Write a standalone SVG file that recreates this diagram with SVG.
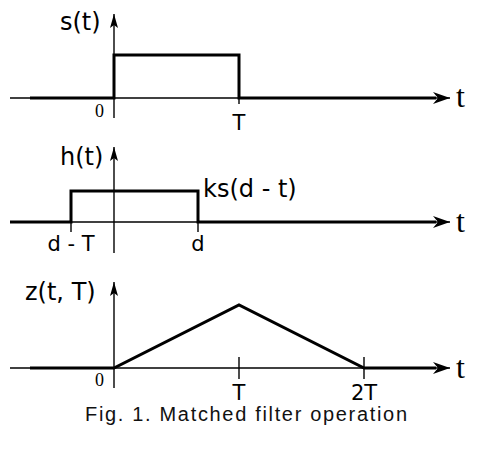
<svg xmlns="http://www.w3.org/2000/svg" width="486" height="455" viewBox="0 0 486 455">
<style>
.bg{fill:#fff}
.ax{fill:none;stroke:#000;stroke-width:1.4}
.sig{fill:none;stroke:#000;stroke-width:3;stroke-linejoin:miter;stroke-linecap:butt}
.lbl{font-family:"DejaVu Sans",Verdana,sans-serif;font-size:24px;fill:#000}
.tick{font-family:"DejaVu Sans",Verdana,sans-serif;font-size:21px;fill:#000;text-anchor:middle}
.ser{font-family:"Liberation Serif","Times New Roman",serif;fill:#000}
.cap{font-family:"Liberation Sans",Arial,sans-serif;font-size:20px;fill:#111}
</style>
<defs>
<marker id="ah" viewBox="-18 -7 19 14" refX="0" refY="0" markerWidth="19" markerHeight="14" orient="auto" markerUnits="userSpaceOnUse">
<path d="M0,0 L-17,-6 L-12,0 L-17,6 Z" fill="#000"/>
</marker>
<marker id="av" viewBox="-15 -5 16 10" refX="0" refY="0" markerWidth="16" markerHeight="10" orient="auto" markerUnits="userSpaceOnUse">
<path d="M0,0 L-14,-4 L-11,0 L-14,4 Z" fill="#000"/>
</marker>
</defs>
<rect class="bg" x="0" y="0" width="486" height="455"/>

<g id="panel-s">
<line class="ax" x1="10" y1="98" x2="450" y2="98" marker-end="url(#ah)"/>
<line class="ax" x1="114" y1="118" x2="114" y2="14" marker-end="url(#av)"/>
<line class="ax" x1="239" y1="98" x2="239" y2="104"/>
<path class="sig" d="M30,98 H114 V55 H239 V98 H436"/>
<text class="lbl" x="60" y="30">s(t)</text>
<text class="ser" x="95" y="117" font-size="18">0</text>
<text class="tick" x="239" y="130">T</text>
<text class="ser" x="456" y="107" font-size="32">t</text>
</g>

<g id="panel-h">
<line class="ax" x1="10" y1="222" x2="450" y2="222" marker-end="url(#ah)"/>
<line class="ax" x1="114" y1="253" x2="114" y2="147" marker-end="url(#av)"/>
<line class="ax" x1="71" y1="222" x2="71" y2="232"/>
<line class="ax" x1="198" y1="222" x2="198" y2="232"/>
<path class="sig" d="M10,222 H71 V191 H198 V222 H436"/>
<text class="lbl" x="60" y="165">h(t)</text>
<text class="lbl" x="203" y="197">ks(d - t)</text>
<text class="tick" x="71" y="251">d - T</text>
<text class="tick" x="198" y="251">d</text>
<text class="ser" x="456" y="232" font-size="32">t</text>
</g>

<g id="panel-z">
<line class="ax" x1="10" y1="368" x2="450" y2="368" marker-end="url(#ah)"/>
<line class="ax" x1="114" y1="388" x2="114" y2="282" marker-end="url(#av)"/>
<line class="ax" x1="239" y1="357" x2="239" y2="379"/>
<line class="ax" x1="364" y1="357" x2="364" y2="379"/>
<path class="sig" d="M30,368 H114 L239,305 L364,368 H436"/>
<text class="lbl" x="25" y="300">z(t, T)</text>
<text class="ser" x="95" y="386" font-size="18">0</text>
<text class="tick" x="239" y="400">T</text>
<text class="tick" x="364" y="400">2T</text>
<text class="ser" x="456" y="378" font-size="32">t</text>
</g>

<text class="cap" x="85" y="421" textLength="322" lengthAdjust="spacing">Fig. 1. Matched filter operation</text>
</svg>
